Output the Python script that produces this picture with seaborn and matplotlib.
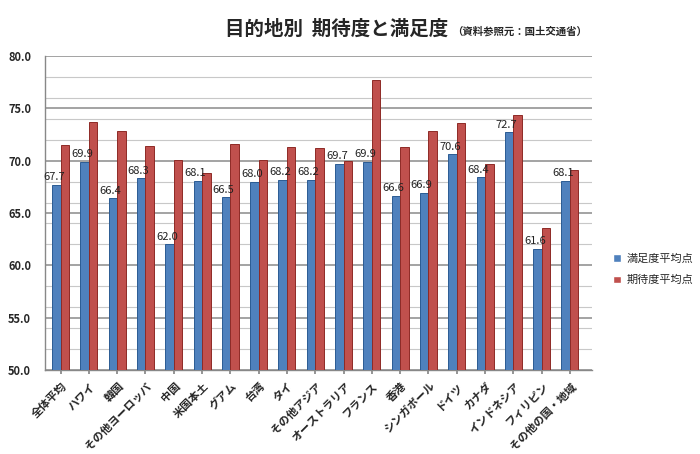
import matplotlib
matplotlib.use('Agg')
import matplotlib.pyplot as plt
import seaborn as sns
import pandas as pd
from matplotlib.ticker import MultipleLocator, FormatStrFormatter

# データ
categories = ['全体平均', 'ハワイ', '韓国', 'その他ヨーロッパ', '中国', '米国本土', 'グアム',
              '台湾', 'タイ', 'その他アジア', 'オーストラリア', 'フランス', '香港',
              'シンガポール', 'ドイツ', 'カナダ', 'インドネシア', 'フィリピン', 'その他の国・地域']
manzoku = [67.7, 69.9, 66.4, 68.3, 62.0, 68.1, 66.5, 68.0, 68.2, 68.2,
           69.7, 69.9, 66.6, 66.9, 70.6, 68.4, 72.7, 61.6, 68.1]
kitai = [71.5, 73.7, 72.8, 71.4, 70.1, 68.8, 71.6, 70.1, 71.3, 71.2,
         70.0, 77.7, 71.3, 72.8, 73.6, 69.7, 74.4, 63.6, 69.1]
series_names = ['満足度平均点', '期待度平均点']

df = pd.DataFrame({
    '目的地': categories * 2,
    '平均点': manzoku + kitai,
    '種類': [series_names[0]] * len(categories) + [series_names[1]] * len(categories),
})

sns.set_theme(style='white')
plt.rcParams['font.family'] = ['Noto Sans CJK JP', 'DejaVu Sans']

fig = plt.figure(figsize=(7, 4.54), dpi=100)
ax = fig.add_axes([45 / 700, 84 / 454, 547 / 700, 314 / 454])

sns.barplot(data=df, x='目的地', y='平均点', hue='種類', order=categories,
            hue_order=series_names, palette=['#4F81BD', '#C0504D'],
            saturation=1, width=0.6, gap=0, ax=ax, zorder=3)

edge_cols = ['#2B5B93', '#8E2A26']
for cont, ec in zip(ax.containers, edge_cols):
    for bar in cont:
        bar.set_edgecolor(ec)
        bar.set_linewidth(0.7)

# 満足度のラベル（棒の少し左寄り）
for bar, v in zip(ax.containers[0], manzoku):
    ax.annotate(f'{v:.1f}', (bar.get_x() + bar.get_width() * 0.2, bar.get_height()),
                xytext=(0, 2), textcoords='offset points', ha='center', va='bottom',
                fontsize=8, color='#222222', zorder=4)

ax.set_ylim(50, 80)
ax.set_xlim(-0.55, 18.78)
ax.yaxis.set_major_locator(MultipleLocator(5))
ax.yaxis.set_minor_locator(MultipleLocator(2))
ax.yaxis.set_major_formatter(FormatStrFormatter('%.1f'))
ax.grid(which='minor', axis='y', color='#c8c8c8', linewidth=0.8, zorder=0)
ax.grid(which='major', axis='y', color='#8a8a8a', linewidth=1.1, zorder=0)
ax.set_axisbelow(True)

ax.set_xlabel('')
ax.set_ylabel('')
ax.set_xticks(range(len(categories)))
ax.set_xticklabels(categories, rotation=45, ha='right', rotation_mode='anchor',
                   fontsize=8, fontweight='bold')
ax.tick_params(axis='x', bottom=True, length=3, color='#888888', pad=4)
ax.tick_params(axis='y', left=False, labelsize=8, pad=4)
for lab in ax.get_yticklabels():
    lab.set_fontweight('bold')

for side in ['top', 'right']:
    ax.spines[side].set_visible(False)
for side in ['left', 'bottom']:
    ax.spines[side].set_color('#888888')
    ax.spines[side].set_linewidth(1.0)

ax.legend(loc='center left', bbox_to_anchor=(1.02, 0.32), frameon=False,
          fontsize=8, handlelength=0.7, handleheight=0.7, labelspacing=1.0,
          handletextpad=0.5)

fig.text(225 / 700, 1 - 29 / 454, '目的地別  期待度と満足度', fontsize=14,
         fontweight='bold', va='center', ha='left')
fig.text(587 / 700, 1 - 31 / 454, '（資料参照元：国土交通省）', fontsize=7.5,
         fontweight='bold', va='center', ha='right')

fig.savefig('out.png', dpi=100)
